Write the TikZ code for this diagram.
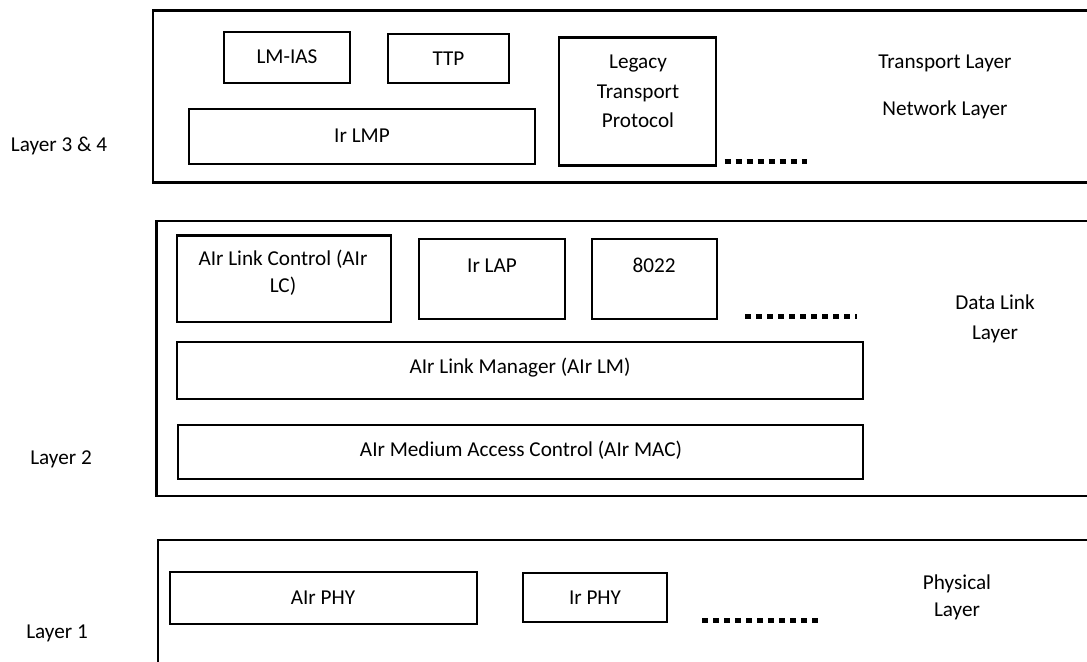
\documentclass[tikz,border=0pt]{standalone}
\usepackage{fontspec}
\setmainfont{Carlito}
\usetikzlibrary{fit}
\newcommand{\diagfont}{\fontsize{15.9}{21}\selectfont}
\begin{document}
\begin{tikzpicture}[x=0.75pt,y=-0.75pt,
  outerbox/.style={draw, line width=1.9pt, inner sep=0pt},
  ibox/.style={draw, line width=1.9pt, inner sep=0pt},
  txt/.style={inner sep=0pt, font=\diagfont, align=center, execute at begin node=\strut},
  dotline/.style={line width=3.75pt, dash pattern=on 4.5pt off 3.75pt},
]
\clip (0,0) rectangle (1087,661);
\fill[white] (0,0) rectangle (1087,661);

% ---------- Layer 3 & 4 ----------
\node[outerbox, fit={(153,10.5) (1095,182.5)}] (l34) {};
\node[ibox, fit={(224,32) (350,83)}] (lmias) {};
\node[txt] (lmiastxt) at (lmias.center) {LM-IAS};
\node[ibox, fit={(388,34) (509,83)}] (ttp) {};
\node[txt] (ttptxt) at ([yshift=-1pt]ttp.center) {TTP};
\node[ibox, fit={(189,109) (535,164)}] (irlmp) {};
\node[txt] (irlmptxt) at (irlmp.center) {Ir LMP};
\node[ibox, fit={(559,37.5) (716,165.5)}] (legacy) {};
\node[txt, font=\fontsize{15.9}{22.1}\selectfont] (legacytxt) at (638,92.5)
  {Legacy\strut\\Transport\strut\\Protocol\strut};
\coordinate (d1a) at (724.6,161.7);
\coordinate (d1b) at (807,161.7);
\draw[dotline] (d1a) -- (d1b);
\node[txt] (transport) at (945,63) {Transport Layer};
\node[txt] (network) at (945,110) {Network Layer};
\node[txt] (lab34) at (59,146) {Layer 3 \& 4};

% ---------- Layer 2 ----------
\node[outerbox, fit={(156.7,220.8) (1095,495.8)}] (l2) {};
\node[ibox, fit={(177,235.5) (391,322)}] (airlc) {};
\node[txt, font=\fontsize{15.9}{20.25}\selectfont] (airlctxt) at (283,273.5)
  {AIr Link Control (AIr\strut\\LC)\strut};
\node[ibox, fit={(419,239) (565,319)}] (irlap) {};
\node[txt] (irlaptxt) at (492,267) {Ir LAP};
\node[ibox, fit={(592,239) (717,319)}] (b8022) {};
\node[txt] (b8022txt) at (654,267) {8022};
\coordinate (d2a) at (745,316);
\coordinate (d2b) at (857,316);
\draw[dotline] (d2a) -- (d2b);
\node[ibox, fit={(177,342) (863,399)}] (airlm) {};
\node[txt] (airlmtxt) at (520,368) {AIr Link Manager (AIr LM)};
\node[ibox, fit={(178,425) (863,479)}] (airmac) {};
\node[txt] (airmactxt) at (521,451) {AIr Medium Access Control (AIr MAC)};
\node[txt, font=\fontsize{15.9}{22.5}\selectfont] (dll) at (995,318)
  {Data Link\strut\\Layer\strut};
\node[txt] (lab2) at (61,459) {Layer 2};

% ---------- Layer 1 ----------
\node[outerbox, fit={(158,540) (1095,700)}] (l1) {};
\node[ibox, fit={(170,572) (477,624)}] (airphy) {};
\node[txt] (airphytxt) at (323,599) {AIr PHY};
\node[ibox, fit={(523,573) (667,622)}] (irphy) {};
\node[txt] (irphytxt) at (595,599) {Ir PHY};
\coordinate (d3a) at (702,620);
\coordinate (d3b) at (823,620);
\draw[dotline] (d3a) -- (d3b);
\node[txt, font=\fontsize{15.9}{20.25}\selectfont] (phy) at (957,597.5)
  {Physical\strut\\Layer\strut};
\node[txt] (lab1) at (57,633) {Layer 1};
\end{tikzpicture}
\end{document}
